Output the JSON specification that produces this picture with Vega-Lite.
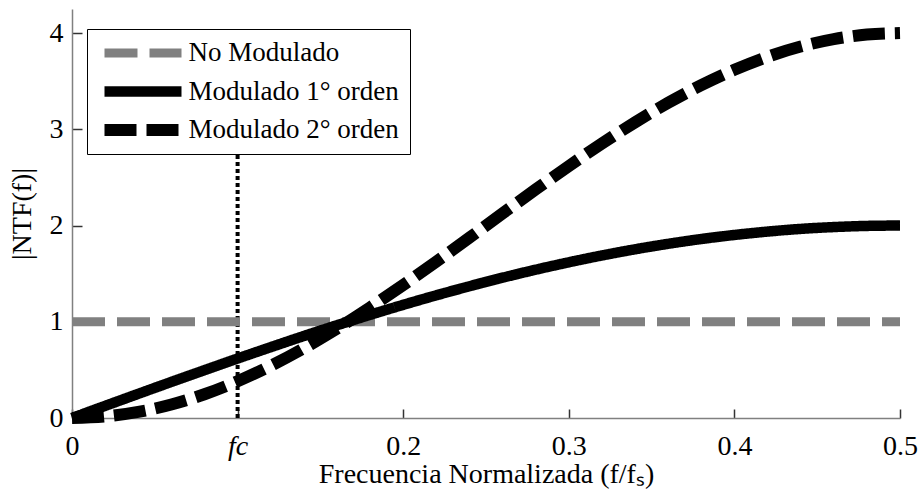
{
  "$schema": "https://vega.github.io/schema/vega-lite/v6.json",
  "width": 828,
  "height": 409,
  "autosize": {"type": "none"},
  "padding": {"left": 72, "top": 9, "right": 20, "bottom": 77},
  "background": "white",
  "config": {
    "font": "Liberation Serif",
    "view": {"stroke": null},
    "axis": {
      "labelFont": "Liberation Serif",
      "titleFont": "Liberation Serif",
      "labelFontSize": 28,
      "titleFontSize": 28,
      "titleFontWeight": "normal",
      "labelColor": "black",
      "titleColor": "black",
      "domainColor": "#808080",
      "domainWidth": 1.5,
      "tickColor": "#333333",
      "tickWidth": 1.5,
      "grid": false,
      "labelFlush": false,
      "labelOverlap": false
    }
  },
  "datasets": {
    "curves": [
      {"f": 0, "v": 1, "serie": "No Modulado"},
      {"f": 0.5, "v": 1, "serie": "No Modulado"},
      {"f": 0, "v": 0, "serie": "Modulado 1° orden"},
      {"f": 0.02, "v": 0.126, "serie": "Modulado 1° orden"},
      {"f": 0.04, "v": 0.251, "serie": "Modulado 1° orden"},
      {"f": 0.06, "v": 0.375, "serie": "Modulado 1° orden"},
      {"f": 0.08, "v": 0.497, "serie": "Modulado 1° orden"},
      {"f": 0.1, "v": 0.618, "serie": "Modulado 1° orden"},
      {"f": 0.12, "v": 0.736, "serie": "Modulado 1° orden"},
      {"f": 0.14, "v": 0.852, "serie": "Modulado 1° orden"},
      {"f": 0.16, "v": 0.964, "serie": "Modulado 1° orden"},
      {"f": 0.18, "v": 1.072, "serie": "Modulado 1° orden"},
      {"f": 0.2, "v": 1.176, "serie": "Modulado 1° orden"},
      {"f": 0.22, "v": 1.275, "serie": "Modulado 1° orden"},
      {"f": 0.24, "v": 1.369, "serie": "Modulado 1° orden"},
      {"f": 0.26, "v": 1.458, "serie": "Modulado 1° orden"},
      {"f": 0.28, "v": 1.541, "serie": "Modulado 1° orden"},
      {"f": 0.3, "v": 1.618, "serie": "Modulado 1° orden"},
      {"f": 0.32, "v": 1.689, "serie": "Modulado 1° orden"},
      {"f": 0.34, "v": 1.753, "serie": "Modulado 1° orden"},
      {"f": 0.36, "v": 1.81, "serie": "Modulado 1° orden"},
      {"f": 0.38, "v": 1.86, "serie": "Modulado 1° orden"},
      {"f": 0.4, "v": 1.902, "serie": "Modulado 1° orden"},
      {"f": 0.42, "v": 1.937, "serie": "Modulado 1° orden"},
      {"f": 0.44, "v": 1.965, "serie": "Modulado 1° orden"},
      {"f": 0.46, "v": 1.984, "serie": "Modulado 1° orden"},
      {"f": 0.48, "v": 1.996, "serie": "Modulado 1° orden"},
      {"f": 0.5, "v": 2.0, "serie": "Modulado 1° orden"},
      {"f": 0, "v": 0, "serie": "Modulado 2° orden"},
      {"f": 0.02, "v": 0.016, "serie": "Modulado 2° orden"},
      {"f": 0.04, "v": 0.063, "serie": "Modulado 2° orden"},
      {"f": 0.06, "v": 0.14, "serie": "Modulado 2° orden"},
      {"f": 0.08, "v": 0.247, "serie": "Modulado 2° orden"},
      {"f": 0.1, "v": 0.382, "serie": "Modulado 2° orden"},
      {"f": 0.12, "v": 0.542, "serie": "Modulado 2° orden"},
      {"f": 0.14, "v": 0.725, "serie": "Modulado 2° orden"},
      {"f": 0.16, "v": 0.928, "serie": "Modulado 2° orden"},
      {"f": 0.18, "v": 1.149, "serie": "Modulado 2° orden"},
      {"f": 0.2, "v": 1.382, "serie": "Modulado 2° orden"},
      {"f": 0.22, "v": 1.625, "serie": "Modulado 2° orden"},
      {"f": 0.24, "v": 1.874, "serie": "Modulado 2° orden"},
      {"f": 0.26, "v": 2.126, "serie": "Modulado 2° orden"},
      {"f": 0.28, "v": 2.375, "serie": "Modulado 2° orden"},
      {"f": 0.3, "v": 2.618, "serie": "Modulado 2° orden"},
      {"f": 0.32, "v": 2.852, "serie": "Modulado 2° orden"},
      {"f": 0.34, "v": 3.072, "serie": "Modulado 2° orden"},
      {"f": 0.36, "v": 3.275, "serie": "Modulado 2° orden"},
      {"f": 0.38, "v": 3.458, "serie": "Modulado 2° orden"},
      {"f": 0.4, "v": 3.618, "serie": "Modulado 2° orden"},
      {"f": 0.42, "v": 3.753, "serie": "Modulado 2° orden"},
      {"f": 0.44, "v": 3.86, "serie": "Modulado 2° orden"},
      {"f": 0.46, "v": 3.937, "serie": "Modulado 2° orden"},
      {"f": 0.48, "v": 3.984, "serie": "Modulado 2° orden"},
      {"f": 0.5, "v": 4.0, "serie": "Modulado 2° orden"}
    ],
    "fc": [{"f": 0.1, "y0": 0, "y1": 2.8}]
  },
  "encoding": {
    "x": {
      "field": "f",
      "type": "quantitative",
      "scale": {"domain": [0, 0.5]},
      "axis": {
        "values": [0, 0.1, 0.2, 0.3, 0.4, 0.5],
        "labelExpr": "datum.value == 0.1 ? 'fc' : (datum.value == 0 ? '0' : format(datum.value, '.1f'))",
        "labelFontStyle": {"condition": {"test": "datum.value == 0.1", "value": "italic"}, "value": "normal"},
        "title": "Frecuencia Normalizada (f/fₛ)",
        "tickSize": -9,
        "labelPadding": 23,
        "titlePadding": 0
      }
    },
    "y": {
      "field": "v",
      "type": "quantitative",
      "scale": {"domain": [0, 4.25]},
      "axis": {
        "values": [0, 1, 2, 3, 4],
        "title": "|NTF(f)|",
        "tickSize": -10,
        "labelPadding": 19,
        "titlePadding": 13
      }
    }
  },
  "layer": [
    {
      "data": {"name": "fc"},
      "mark": {"type": "rule", "strokeDash": [4, 3], "strokeWidth": 4, "color": "black"},
      "encoding": {
        "y": {"field": "y0", "type": "quantitative"},
        "y2": {"field": "y1"}
      }
    },
    {
      "data": {"name": "curves"},
      "transform": [{"filter": "datum.serie == 'No Modulado'"}],
      "mark": {"type": "line"},
      "encoding": {
        "color": {"field": "serie", "type": "nominal", "scale": {"domain": ["No Modulado", "Modulado 1° orden", "Modulado 2° orden"], "range": ["#808080", "#000000", "#000000"]}, "legend": {"title": null, "orient": "none", "legendX": 15, "legendY": 20, "fillColor": "white", "strokeColor": "black", "padding": 10.5, "symbolType": "M-6,0H6", "symbolSize": 164.7, "labelFontSize": 27, "labelFont": "Liberation Serif", "labelColor": "black", "labelOffset": 32, "rowPadding": 10.5, "symbolOffset": 32, "labelLimit": 400, "encode": {"symbols": {"update": {"strokeJoin": {"value": "bevel"}}}}}},
        "strokeDash": {"field": "serie", "type": "nominal", "scale": {"domain": ["No Modulado", "Modulado 1° orden", "Modulado 2° orden"], "range": [[33, 12], [1, 0], [32, 10]]}},
        "strokeWidth": {"field": "serie", "type": "nominal", "scale": {"domain": ["No Modulado", "Modulado 1° orden", "Modulado 2° orden"], "range": [9, 12, 12]}}
      }
    },
    {
      "data": {"name": "curves"},
      "transform": [{"filter": "datum.serie == 'Modulado 1° orden'"}],
      "mark": {"type": "line", "interpolate": "monotone"},
      "encoding": {
        "color": {"field": "serie", "type": "nominal"},
        "strokeDash": {"field": "serie", "type": "nominal"},
        "strokeWidth": {"field": "serie", "type": "nominal"}
      }
    },
    {
      "data": {"name": "curves"},
      "transform": [{"filter": "datum.serie == 'Modulado 2° orden'"}],
      "mark": {"type": "line", "interpolate": "monotone"},
      "encoding": {
        "color": {"field": "serie", "type": "nominal"},
        "strokeDash": {"field": "serie", "type": "nominal"},
        "strokeWidth": {"field": "serie", "type": "nominal"}
      }
    }
  ]
}
